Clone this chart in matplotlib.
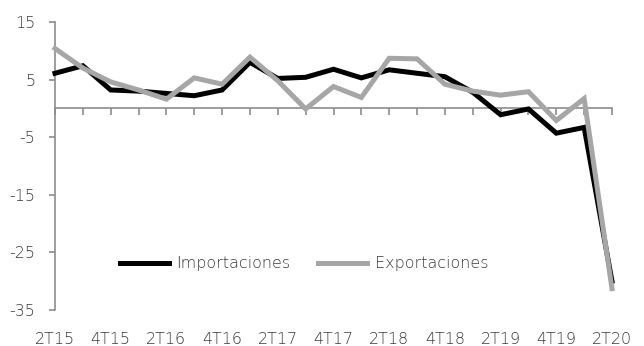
import matplotlib
matplotlib.use("Agg")
import matplotlib.pyplot as plt

# trimestres 2T15 .. 2T20
quarters = ["2T15", "3T15", "4T15", "1T16", "2T16", "3T16", "4T16", "1T17",
            "2T17", "3T17", "4T17", "1T18", "2T18", "3T18", "4T18", "1T19",
            "2T19", "3T19", "4T19", "1T20", "2T20"]
importaciones = [6.1, 7.4, 3.2, 3.0, 2.6, 2.2, 3.2, 8.0, 5.2, 5.4, 6.8,
                 5.3, 6.7, 6.1, 5.5, 2.8, -1.1, -0.1, -4.3, -3.3, -30.0]
exportaciones = [10.4, 7.0, 4.6, 3.2, 1.6, 5.3, 4.2, 8.9, 4.8, -0.1, 3.8,
                 1.9, 8.7, 8.6, 4.2, 3.0, 2.3, 2.9, -2.1, 1.7, -31.3]
yticks = [-35, -25, -15, -5, 5, 15]

plt.rcParams['font.family'] = ['DejaVu Sans']
plt.rcParams['font.weight'] = 'light'
plt.rcParams['axes.unicode_minus'] = False
text_color = '#3a3a3a'
axis_color = '#8c8c8c'
fsize = 11.5

fig = plt.figure(figsize=(6.44, 3.46), dpi=100)
ax = fig.add_axes([55 / 644, 36 / 346, 557 / 644, 288 / 346])

x = list(range(len(quarters)))
ax.plot(x, importaciones, color='black', lw=3.6, label='Importaciones',
        solid_joinstyle='miter', clip_on=False, zorder=3)
ax.plot(x, exportaciones, color='#a6a6a6', lw=3.6, label='Exportaciones',
        solid_joinstyle='miter', clip_on=False, zorder=3)

ax.set_xlim(0, len(quarters) - 1)
ax.set_ylim(-35, 15)

# eje horizontal cruzando en cero, con marcas hacia abajo
for side in ['top', 'right']:
    ax.spines[side].set_visible(False)
ax.spines['bottom'].set_position(('data', 0))
ax.spines['bottom'].set_color(axis_color)
ax.spines['bottom'].set_linewidth(1.2)
ax.spines['left'].set_color(axis_color)
ax.spines['left'].set_linewidth(1.2)
ax.set_xticks(x)
ax.tick_params(axis='x', direction='out', length=5, width=1.2,
               color=axis_color, labelbottom=False)

ax.set_yticks(yticks)
ax.tick_params(axis='y', direction='out', length=4, width=1.2,
               color=axis_color, labelsize=fsize, labelcolor=text_color, pad=10)

# etiquetas de trimestre en la parte inferior
sec = ax.secondary_xaxis(0.0)
sec.set_xticks(x[::2])
sec.set_xticklabels(quarters[::2])
sec.spines['bottom'].set_visible(False)
sec.tick_params(length=0, labelsize=fsize, labelcolor=text_color, pad=15.5)

ax.legend(loc='center', bbox_to_anchor=(0.447, 0.16), ncol=2, frameon=False,
          fontsize=fsize, labelcolor=text_color, handlelength=3.1,
          handletextpad=0.45, columnspacing=1.7)

fig.savefig('out.png', dpi=100)
